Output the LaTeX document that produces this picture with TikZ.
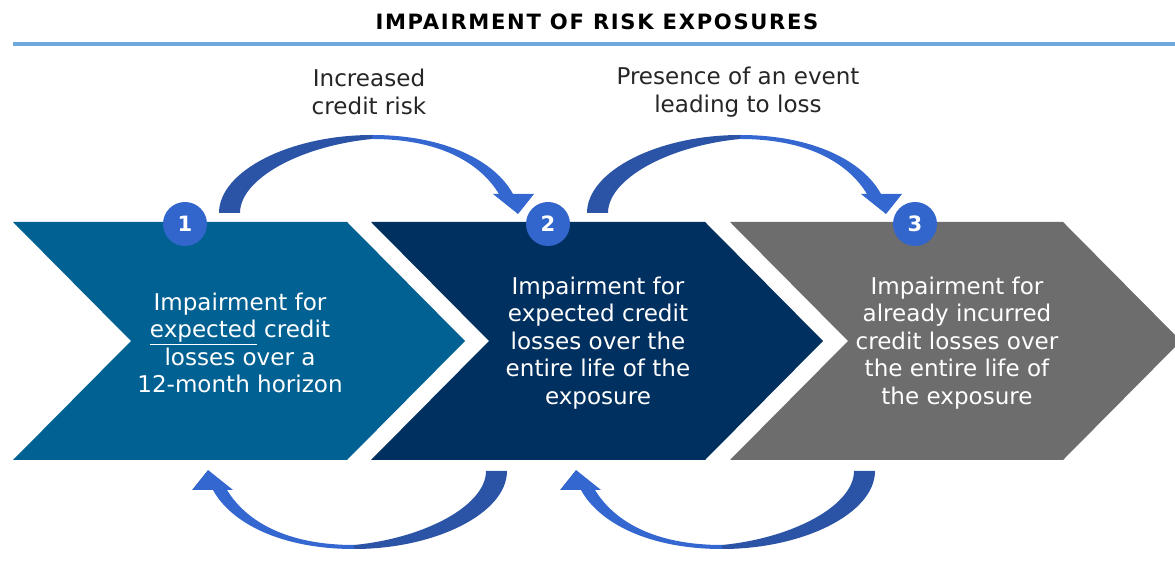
\documentclass[tikz,border=0pt]{standalone}
\usepackage{fontspec}
\setmainfont{DejaVu Sans}
\newfontfamily\titlefont[LetterSpace=8]{DejaVu Sans}
\usetikzlibrary{positioning,calc}

\definecolor{stepone}{RGB}{0,97,146}
\definecolor{steptwo}{RGB}{0,48,95}
\definecolor{stepthree}{RGB}{109,109,109}
\definecolor{dotblue}{RGB}{51,102,204}
\definecolor{arrowdark}{RGB}{44,84,166}
\definecolor{arrowlight}{RGB}{52,103,208}
\definecolor{rulecol}{RGB}{111,168,220}

\begin{document}
\begin{tikzpicture}[x=0.025cm,y=0.025cm,
    boxtext/.style={text=white,align=center,font=\fontsize{16.4}{19.6}\selectfont},
    toplabel/.style={text=black!85,align=center,font=\fontsize{16.4}{19.9}\selectfont},
    numdot/.style={circle,fill=dotblue,text=white,minimum size=1.1cm,inner sep=0pt,
      font=\bfseries\fontsize{15}{16}\selectfont}]

  \useasboundingbox (0,0) rectangle (1175,571);

  % title and rule
  \node[font=\titlefont\bfseries\fontsize{15}{17}\selectfont] (title) at (597,549) {IMPAIRMENT OF RISK EXPOSURES};
  \coordinate (ruleL) at (13,527);
  \coordinate (ruleR) at (1175,527);
  \draw[rulecol, line width=0.08cm] (ruleL) -- (ruleR);

  % chevrons
  \fill[stepone] (13,349) -- (347,349) -- (465,230) -- (347,111) -- (13,111) -- (131,230) -- cycle;
  \fill[steptwo] (371,349) -- (705,349) -- (823,230) -- (705,111) -- (371,111) -- (489,230) -- cycle;
  \fill[stepthree] (730,349) -- (1063,349) -- (1181,230) -- (1063,111) -- (730,111) -- (848,230) -- cycle;

  % curved arrows
  \foreach \dx in {0,368} {
    \begin{scope}[shift={(\dx,0)}]
      \fill[arrowdark] (219,358) .. controls (219,400) and (290,436) .. (372,436)
        -- (372,432) .. controls (300,425) and (240,392) .. (240,358) -- cycle;
      \fill[arrowlight] (372,436) .. controls (445,436) and (495,410) .. (513,377)
        -- (534,377) -- (518,357) -- (493,377) -- (499,377)
        .. controls (480,408) and (440,432) .. (372,432) -- cycle;
    \end{scope}
    \begin{scope}[shift={(\dx,0)}, rotate around={180:(363,229)}]
      \fill[arrowdark] (219,358) .. controls (219,400) and (290,436) .. (372,436)
        -- (372,432) .. controls (300,425) and (240,392) .. (240,358) -- cycle;
      \fill[arrowlight] (372,436) .. controls (445,436) and (495,410) .. (513,377)
        -- (534,377) -- (518,357) -- (493,377) -- (499,377)
        .. controls (480,408) and (440,432) .. (372,432) -- cycle;
    \end{scope}
  }

  % step numbers
  \node[numdot] (one) at (185,347) {1};
  \node[numdot] (two) at (548,347) {2};
  \node[numdot] (three) at (915,347) {3};

  % texts
  \node[boxtext] (txtone) at (240,228) {Impairment for\\\underline{expected} credit\\losses over a\\12-month horizon};
  \node[boxtext] (txttwo) at (598,228) {Impairment for\\expected credit\\losses over the\\entire life of the\\exposure};
  \node[boxtext] (txtthree) at (957,228) {Impairment for\\already incurred\\credit losses over\\the entire life of\\the exposure};

  \node[toplabel] (riskup) at (369,479) {Increased\\credit risk};
  \node[toplabel] (lossev) at (738,479) {Presence of an event\\leading to loss};
\end{tikzpicture}
\end{document}
